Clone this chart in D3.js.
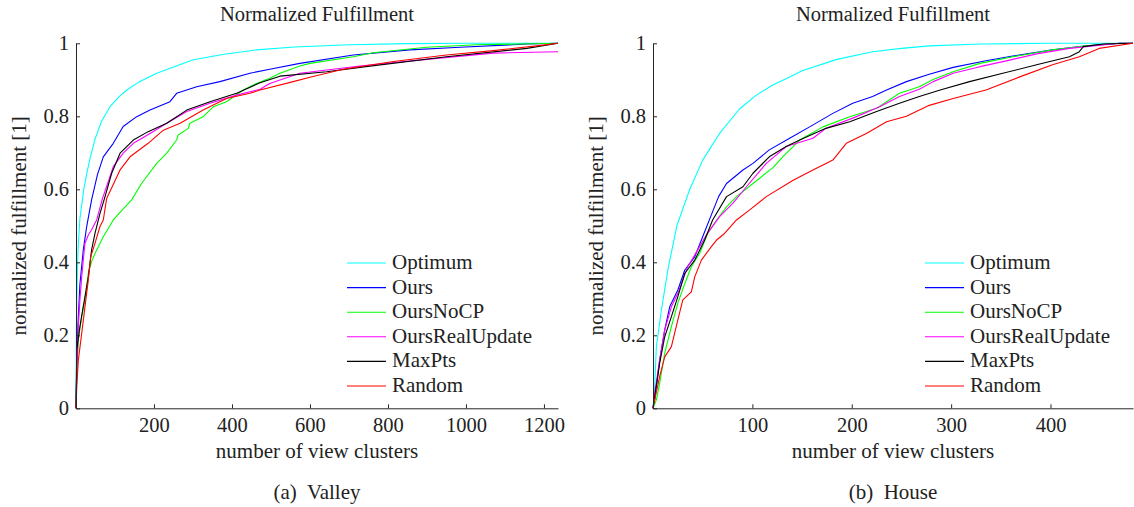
<!DOCTYPE html>
<html>
<head>
<meta charset="utf-8">
<script src="https://cdn.jsdelivr.net/npm/d3@7"></script>
<style>
  body { margin: 0; background: #fff; }
  text { font-family: "Liberation Serif", "DejaVu Serif", serif; fill: #222; }
</style>
</head>
<body>
<div id="chart"></div>
<script>
var width = 1134, height = 507;

var seriesNames = ["Optimum", "Ours", "OursNoCP", "OursRealUpdate", "MaxPts", "Random"];
var seriesColors = ["#00ffff", "#0000ff", "#00ff00", "#ff00ff", "#000000", "#ff0000"];

var yTicks = [0, 0.2, 0.4, 0.6, 0.8, 1];
var yTickLabels = ["0", "0.2", "0.4", "0.6", "0.8", "1"];

// (a) Valley : [clusters, fulfillment]
var valleyXMax = 1236;
var valleyXTicks = [200, 400, 600, 800, 1000, 1200];
var valleyOptimum = [[0,0],[1,0.22],[2,0.3],[5,0.43],[10,0.52],[15,0.56],[20,0.6],[27,0.64],[35,0.68],[48,0.735],[65,0.785],[87,0.826],[110,0.853],[130,0.872],[160,0.893],[207,0.918],[250,0.935],[301,0.955],[380,0.97],[463,0.982],[560,0.99],[700,0.996],[850,0.999],[1000,1],[1236,1]];
var valleyOurs = [[0,0],[2,0.12],[5,0.23],[10,0.34],[18.7,0.434],[27.4,0.498],[40,0.571],[55,0.64],[70,0.689],[95.6,0.726],[121,0.772],[155.6,0.799],[189.7,0.817],[241,0.84],[258,0.863],[309.5,0.881],[369,0.895],[446,0.918],[497,0.929],[574,0.945],[711,0.968],[856,0.982],[985,0.989],[1156,0.998],[1236,1]];
var valleyOursNoCP = [[0,0],[2,0.1],[6,0.187],[14.6,0.251],[23,0.297],[31.6,0.37],[40,0.402],[53,0.434],[70,0.47],[95.6,0.516],[120,0.545],[142.7,0.571],[168,0.616],[207,0.671],[232.6,0.699],[258,0.735],[262,0.749],[288,0.767],[292,0.781],[326,0.799],[352,0.826],[386,0.84],[429,0.872],[463,0.89],[497,0.904],[523,0.918],[574,0.938],[600,0.945],[711,0.963],[762,0.974],[899,0.989],[1027,0.996],[1236,1]];
var valleyOursRealUpdate = [[0,0],[2,0.1],[6,0.224],[10,0.297],[14.6,0.36],[18.7,0.406],[23,0.452],[31.6,0.475],[40,0.489],[53,0.516],[68,0.575],[95.6,0.662],[121,0.699],[147,0.726],[190,0.753],[232.6,0.781],[284,0.813],[343.6,0.836],[412,0.858],[472,0.874],[497,0.89],[574,0.918],[728,0.938],[899,0.956],[1070,0.973],[1236,0.977]];
var valleyMaxPts = [[0,0],[2,0.16],[10,0.224],[17,0.269],[23,0.306],[31.6,0.36],[40,0.434],[48.7,0.479],[61.5,0.534],[72,0.571],[91.5,0.644],[113,0.699],[147,0.735],[185,0.758],[232.6,0.781],[284,0.817],[343.6,0.84],[412,0.863],[472,0.892],[523,0.91],[643,0.922],[728,0.934],[950,0.963],[1156,0.986],[1236,1]];
var valleyRandom = [[0,0],[2,0.06],[6,0.132],[14.6,0.205],[23,0.278],[31.6,0.352],[37.6,0.415],[48.7,0.452],[61.5,0.498],[70,0.516],[78.6,0.575],[113,0.653],[138.5,0.689],[185,0.726],[224,0.762],[267,0.781],[326,0.817],[386,0.849],[446,0.863],[472,0.872],[557,0.895],[600,0.907],[685,0.929],[814,0.95],[950,0.968],[1070,0.98],[1181,0.993],[1236,1]];

// (b) House
var houseXMax = 483;
var houseXTicks = [100, 200, 300, 400];
var houseOptimum = [[0,0],[1.7,0.06],[3.4,0.17],[8.5,0.27],[15,0.38],[24,0.5],[37,0.6],[50,0.68],[67,0.753],[87,0.82],[104,0.858],[120,0.885],[137.5,0.908],[150,0.925],[185,0.956],[221,0.977],[250,0.986],[278,0.993],[330,0.998],[400,1],[483,1]];
var houseOurs = [[0,0],[1.7,0.023],[6.7,0.132],[11.8,0.215],[16.8,0.278],[25,0.324],[32,0.379],[42,0.415],[48.7,0.461],[58.7,0.53],[66,0.58],[74,0.616],[90.5,0.653],[100.6,0.671],[117,0.708],[137.5,0.74],[157.6,0.771],[181,0.808],[201,0.836],[221,0.854],[235,0.872],[255,0.895],[278,0.915],[302,0.934],[335,0.952],[362,0.965],[402,0.982],[436,0.993],[469.5,1],[483,1]];
var houseOursNoCP = [[0,0],[3.4,0.023],[6.7,0.068],[11.8,0.151],[18.5,0.224],[25,0.288],[32,0.342],[38.6,0.388],[47,0.425],[55,0.479],[64,0.516],[74,0.552],[84,0.58],[100.6,0.616],[121,0.66],[131,0.69],[147.6,0.735],[171,0.771],[198,0.799],[225,0.822],[248,0.863],[268,0.881],[282,0.901],[302,0.922],[329,0.945],[362,0.963],[402,0.982],[436,0.993],[469.5,1],[483,1]];
var houseOursRealUpdate = [[0,0],[1.7,0.041],[6.7,0.132],[11.8,0.215],[18.5,0.278],[25,0.315],[35,0.388],[45,0.434],[53.7,0.475],[67,0.525],[80.5,0.562],[94,0.607],[114,0.671],[134,0.717],[161,0.74],[174,0.767],[201,0.795],[228,0.826],[248,0.854],[268,0.874],[282,0.895],[302,0.918],[329,0.936],[359,0.954],[386,0.971],[419,0.986],[443,0.993],[469.5,1],[483,1]];
var houseMaxPts = [[0,0],[1.7,0.032],[6.7,0.123],[11.8,0.196],[18.5,0.251],[25,0.306],[32,0.37],[42,0.406],[52,0.461],[60,0.516],[74,0.58],[90.5,0.607],[100.6,0.644],[117,0.689],[134,0.717],[147.6,0.735],[174,0.767],[198,0.785],[225,0.813],[248,0.836],[268,0.854],[289,0.872],[318.5,0.895],[352,0.918],[386,0.941],[419,0.963],[429,0.977],[433,0.991],[453,0.998],[483,1]];
var houseRandom = [[0,0],[1.7,0.023],[6.7,0.087],[11.8,0.141],[18.5,0.169],[25,0.242],[30,0.297],[38.6,0.319],[42,0.36],[48.7,0.406],[58.7,0.443],[64,0.461],[72,0.479],[84,0.516],[97,0.543],[114,0.58],[141,0.625],[161,0.653],[181,0.68],[194.5,0.726],[214.7,0.753],[235,0.785],[255,0.8],[278,0.83],[302,0.849],[335,0.872],[369,0.908],[402,0.941],[429,0.963],[449,0.986],[483,1]];

var panels = [
  { left: 76, right: 558, xMax: valleyXMax, xTicks: valleyXTicks, caption: "(a)  Valley",
    series: [valleyOptimum, valleyOurs, valleyOursNoCP, valleyOursRealUpdate, valleyMaxPts, valleyRandom], legendX: 347 },
  { left: 653, right: 1133, xMax: houseXMax, xTicks: houseXTicks, caption: "(b)  House",
    series: [houseOptimum, houseOurs, houseOursNoCP, houseOursRealUpdate, houseMaxPts, houseRandom], legendX: 925 }
];

var plotTop = 43.3, plotBottom = 408.3;
var fontSize = "20.5px";

var svg = d3.select("#chart").append("svg")
  .attr("width", width)
  .attr("height", height);

panels.forEach(function(p) {
  var x = d3.scaleLinear().domain([0, p.xMax]).range([p.left, p.right]);
  var y = d3.scaleLinear().domain([0, 1]).range([plotBottom, plotTop]);
  var g = svg.append("g");
  var cx = (p.left + p.right) / 2;

  // curves
  var line = d3.line()
    .x(function(d) { return x(d[0]); })
    .y(function(d) { return y(d[1]); });
  p.series.forEach(function(s, i) {
    g.append("path")
      .datum(s)
      .attr("d", line)
      .attr("fill", "none")
      .attr("stroke", seriesColors[i])
      .attr("stroke-width", 1.1)
      .attr("stroke-linejoin", "round");
  });

  // axes
  var xAxis = g.append("g")
    .attr("transform", "translate(0," + plotBottom + ")")
    .call(d3.axisBottom(x).tickValues(p.xTicks).tickFormat(d3.format("d"))
      .tickSizeInner(-4).tickSizeOuter(0).tickPadding(9));
  var yAxis = g.append("g")
    .attr("transform", "translate(" + p.left + ",0)")
    .call(d3.axisLeft(y).tickValues(yTicks).tickFormat(function(d, i) { return yTickLabels[i]; })
      .tickSizeInner(-4).tickSizeOuter(0).tickPadding(7));
  [xAxis, yAxis].forEach(function(a) {
    a.select(".domain").attr("stroke", "#262626");
    a.selectAll(".tick line").attr("stroke", "#262626");
    a.selectAll("text").attr("font-size", fontSize).attr("font-family", "Liberation Serif").attr("fill", "#222");
  });

  // titles
  g.append("text").attr("x", cx).attr("y", 21).attr("text-anchor", "middle")
    .attr("font-size", fontSize).text("Normalized Fulfillment");
  g.append("text").attr("x", cx).attr("y", 458).attr("text-anchor", "middle")
    .attr("font-size", "21px").text("number of view clusters");
  g.append("text")
    .attr("transform", "translate(" + (p.left - 50) + "," + ((plotTop + plotBottom) / 2) + ") rotate(-90)")
    .attr("text-anchor", "middle")
    .attr("font-size", "21px").text("normalized fulfillment [1]");
  g.append("text").attr("x", cx).attr("y", 499).attr("text-anchor", "middle")
    .attr("font-size", "21px").attr("xml:space", "preserve").text(p.caption);

  // legend
  var leg = g.append("g");
  seriesNames.forEach(function(name, i) {
    var ly = 263 + i * 24.6;
    leg.append("line")
      .attr("x1", p.legendX).attr("x2", p.legendX + 39)
      .attr("y1", ly).attr("y2", ly)
      .attr("stroke", seriesColors[i]).attr("stroke-width", 1.1);
    leg.append("text")
      .attr("x", p.legendX + 45).attr("y", ly + 6)
      .attr("font-size", "21px").text(name);
  });
});
</script>
</body>
</html>
